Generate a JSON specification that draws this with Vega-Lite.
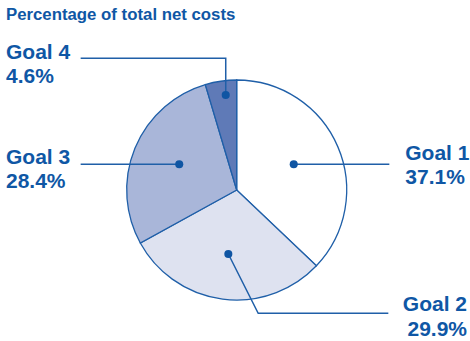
{
  "$schema": "https://vega.github.io/schema/vega-lite/v6.json",
  "width": 470,
  "height": 341,
  "autosize": {"type": "fit", "contains": "padding"},
  "padding": 0,
  "background": "white",
  "config": {"view": {"stroke": null}},
  "datasets": {
    "costs": [
      {"goal": "Goal 1", "pct": 37.1},
      {"goal": "Goal 2", "pct": 29.9},
      {"goal": "Goal 3", "pct": 28.4},
      {"goal": "Goal 4", "pct": 4.6}
    ],
    "leaders": [
      {"goal": "Goal 1", "step": 1, "x": 295, "y": 164.3},
      {"goal": "Goal 1", "step": 2, "x": 391, "y": 164.3},
      {"goal": "Goal 2", "step": 1, "x": 229.3, "y": 254},
      {"goal": "Goal 2", "step": 2, "x": 259.3, "y": 313.3},
      {"goal": "Goal 2", "step": 3, "x": 390, "y": 313.3},
      {"goal": "Goal 3", "step": 1, "x": 180, "y": 164.3},
      {"goal": "Goal 3", "step": 2, "x": 81, "y": 164.3},
      {"goal": "Goal 4", "step": 1, "x": 226.7, "y": 95},
      {"goal": "Goal 4", "step": 2, "x": 226.7, "y": 58.3},
      {"goal": "Goal 4", "step": 3, "x": 81, "y": 58.3}
    ],
    "labels": [
      {"goal": "Goal 1", "pct": 37.1, "x": 407, "y": 160, "side": "left"},
      {"goal": "Goal 2", "pct": 29.9, "x": 469, "y": 311, "side": "right"},
      {"goal": "Goal 3", "pct": 28.4, "x": 6, "y": 164, "side": "left"},
      {"goal": "Goal 4", "pct": 4.6, "x": 6, "y": 58.5, "side": "left"}
    ],
    "heading": [
      {"text": "Percentage of total net costs", "x": 6, "y": 20}
    ]
  },
  "layer": [
    {
      "data": {"name": "costs"},
      "mark": {"type": "arc", "outerRadius": 110, "stroke": "#1f5fa8", "strokeWidth": 1.3},
      "encoding": {
        "x": {"datum": 237.7, "type": "quantitative", "scale": {"domain": [0, 470], "nice": false, "zero": false}, "axis": null},
        "y": {"datum": 190, "type": "quantitative", "scale": {"domain": [0, 341], "nice": false, "zero": false, "reverse": true}, "axis": null},
        "theta": {"field": "pct", "type": "quantitative", "stack": true},
        "order": {"field": "goal", "sort": "ascending"},
        "color": {"field": "goal", "type": "nominal", "legend": null,
          "scale": {"domain": ["Goal 1", "Goal 2", "Goal 3", "Goal 4"], "range": ["#ffffff", "#dee2f0", "#a9b6d9", "#5f7ab7"]}}
      }
    },
    {
      "data": {"name": "leaders"},
      "mark": {"type": "line", "color": "#1f5fa8", "strokeWidth": 1.5},
      "encoding": {
        "x": {"field": "x", "type": "quantitative"},
        "y": {"field": "y", "type": "quantitative"},
        "detail": {"field": "goal"},
        "order": {"field": "step", "type": "quantitative"}
      }
    },
    {
      "data": {"name": "leaders"},
      "transform": [{"filter": "datum.step === 1"}],
      "mark": {"type": "point", "filled": true, "color": "#0f55a3", "opacity": 1, "size": 65},
      "encoding": {
        "x": {"field": "x", "type": "quantitative"},
        "y": {"field": "y", "type": "quantitative"}
      }
    },
    {
      "data": {"name": "labels"},
      "transform": [
        {"filter": "datum.side === 'left'"},
        {"calculate": "datum.goal + '\\n' + datum.pct + '%'", "as": "label"}
      ],
      "mark": {"type": "text", "align": "left", "baseline": "alphabetic", "font": "Liberation Sans", "fontWeight": "bold", "fontSize": 21, "lineHeight": 24, "lineBreak": "\n", "color": "#0f57a5"},
      "encoding": {
        "x": {"field": "x", "type": "quantitative"},
        "y": {"field": "y", "type": "quantitative"},
        "text": {"field": "label"}
      }
    },
    {
      "data": {"name": "labels"},
      "transform": [
        {"filter": "datum.side === 'right'"},
        {"calculate": "datum.goal + '\\n' + datum.pct + '%'", "as": "label"}
      ],
      "mark": {"type": "text", "align": "right", "baseline": "alphabetic", "font": "Liberation Sans", "fontWeight": "bold", "fontSize": 21, "lineHeight": 25, "lineBreak": "\n", "color": "#0f57a5"},
      "encoding": {
        "x": {"field": "x", "type": "quantitative"},
        "y": {"field": "y", "type": "quantitative"},
        "text": {"field": "label"}
      }
    },
    {
      "data": {"name": "heading"},
      "mark": {"type": "text", "align": "left", "baseline": "alphabetic", "font": "Liberation Sans", "fontWeight": "bold", "fontSize": 16.8, "color": "#0f57a5"},
      "encoding": {
        "x": {"field": "x", "type": "quantitative"},
        "y": {"field": "y", "type": "quantitative"},
        "text": {"field": "text"}
      }
    }
  ]
}
